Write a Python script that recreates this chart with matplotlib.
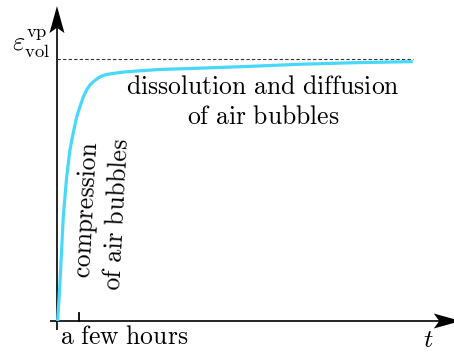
import matplotlib
matplotlib.use("Agg")
import matplotlib.pyplot as plt
from matplotlib.patches import Polygon
from matplotlib.transforms import IdentityTransform

plt.rcParams['mathtext.fontset'] = 'cm'
plt.rcParams['font.family'] = 'serif'
plt.rcParams['font.serif'] = ['cmr10', 'DejaVu Serif']
plt.rcParams['axes.formatter.use_mathtext'] = True

# creep curve: time (in units of "a few hours") vs. volumetric viscoplastic strain
t = [0.03, 0.09, 0.136, 0.286, 0.44, 0.59, 0.74, 0.895, 1.045, 1.195, 1.35,
     1.5, 1.65, 1.88, 2.03, 2.26, 2.56, 3.0, 3.77, 4.68, 6.5, 8.8, 11.05,
     13.6, 16.18]
eps = [0.0, 0.08, 0.145, 0.397, 0.55, 0.653, 0.718, 0.779, 0.818, 0.855,
       0.882, 0.901, 0.913, 0.928, 0.935, 0.941, 0.945, 0.950, 0.955, 0.960,
       0.965, 0.972, 0.980, 0.986, 0.990]
eps_final = 1.0
t_end = 16.18
tick_t = 1.0

fig = plt.figure(figsize=(4.54, 3.52), dpi=100)
ax = fig.add_axes([0, 0, 1, 1])
ax.set_xlim(-2.59, 18.05)
ax.set_ylim(-0.1183, 1.2252)
ax.axis('off')


def stealth(tip, direction, length=27, width=15, notch=0.8):
    # latex-like "stealth" arrow head, sizes in pixels
    x, y = ax.transData.transform(tip)
    dx, dy = direction
    nx, ny = -dy, dx
    verts = [(x, y),
             (x - dx * length + nx * width / 2, y - dy * length + ny * width / 2),
             (x - dx * length * notch, y - dy * length * notch),
             (x - dx * length - nx * width / 2, y - dy * length - ny * width / 2)]
    ax.add_patch(Polygon(verts, closed=True, color='black', lw=0,
                         transform=IdentityTransform(), zorder=4))


# axes
ax.plot([-0.32, 17.6], [0, 0], color='black', lw=1.2, solid_capstyle='butt')
ax.plot([0, 0], [-0.035, 1.15], color='black', lw=1.2, solid_capstyle='butt')
stealth((18.36, 0), (1, 0))
stealth((0, 1.202), (0, 1))

# asymptote
ax.plot([0, t_end], [eps_final, eps_final], color='#333333', lw=0.8,
        ls=(0, (3, 2)))

# curve
ax.plot(t, eps, color='#48d8fc', lw=2.3, solid_capstyle='butt',
        solid_joinstyle='round', zorder=3)

# tick
ax.plot([tick_t, tick_t], [0, 0.03], color='black', lw=1.3)

fs = 18.5
ax.text(0.12, -0.018, r'$\mathrm{a\ few\ hours}$', fontsize=fs, ha='left', va='top')
ax.text(16.87, -0.074, r'$t$', fontsize=fs, ha='center', va='center')
ax.text(-0.32, 1.06, r'$\varepsilon_{\mathrm{vol}}^{\mathrm{vp}}$', fontsize=19,
        ha='right', va='center')

ax.text(9.38, 0.893, r'$\mathrm{dissolution\ and\ diffusion}$', fontsize=fs,
        ha='center', va='center')
ax.text(9.38, 0.778, r'$\mathrm{of\ air\ bubbles}$', fontsize=fs,
        ha='center', va='center')

ax.text(1.36, 0.424, r'$\mathrm{compression}$', fontsize=fs, rotation=87,
        ha='center', va='center', rotation_mode='anchor')
ax.text(2.73, 0.408, r'$\mathrm{of\ air\ bubbles}$', fontsize=fs, rotation=87,
        ha='center', va='center', rotation_mode='anchor')

fig.savefig('out.png', dpi=100)
